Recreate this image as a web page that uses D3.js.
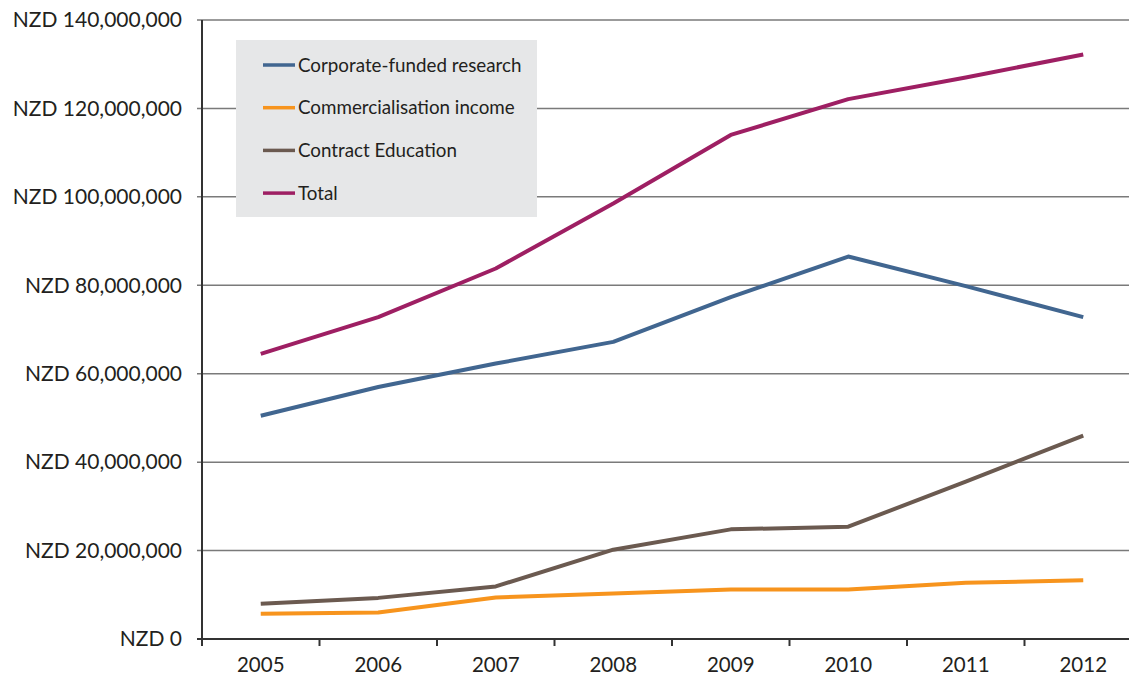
<!DOCTYPE html>
<html>
<head>
<meta charset="utf-8">
<script src="https://cdn.jsdelivr.net/npm/d3@7"></script>
<style>
  html, body { margin: 0; padding: 0; background: #fff; }
  svg { display: block; }
  text { font-family: Lato, "Open Sans", sans-serif; fill: #231f20; }
</style>
</head>
<body>
<svg id="chart" width="1129" height="675"></svg>
<script>
// Income streams by year (NZD)
const years = ["2005", "2006", "2007", "2008", "2009", "2010", "2011", "2012"];
const corporateResearch = [50.5e6, 57.0e6, 62.3e6, 67.2e6, 77.3e6, 86.5e6, 79.8e6, 72.8e6];
const commercialisation = [5.7e6, 6.0e6, 9.4e6, 10.3e6, 11.2e6, 11.2e6, 12.7e6, 13.3e6];
const contractEducation = [8.0e6, 9.3e6, 11.9e6, 20.2e6, 24.8e6, 25.4e6, 35.6e6, 46.0e6];
const total = [64.5e6, 72.8e6, 83.8e6, 98.5e6, 114.0e6, 122.1e6, 127.0e6, 132.2e6];
const yTicks = [0, 20e6, 40e6, 60e6, 80e6, 100e6, 120e6, 140e6];

const series = [
  { name: "Corporate-funded research", values: corporateResearch, color: "#416690" },
  { name: "Commercialisation income", values: commercialisation, color: "#f7941d" },
  { name: "Contract Education", values: contractEducation, color: "#6b5a50" },
  { name: "Total", values: total, color: "#9e1f63" }
];

const svg = d3.select("#chart");
const plotLeft = 202, plotRight = 1142, plotTop = 20, plotBottom = 639;

const x = d3.scaleBand().domain(years).range([plotLeft, plotRight]);
const y = d3.scaleLinear().domain([0, 140e6]).range([plotBottom, plotTop]);

const fmt = v => "NZD " + d3.format(",")(v);

// horizontal gridlines with short ticks left of the axis
svg.append("g").selectAll("line").data(yTicks.slice(1)).join("line")
  .attr("x1", plotLeft - 5).attr("x2", 1129)
  .attr("y1", d => y(d)).attr("y2", d => y(d))
  .attr("stroke", "#7a7a7a").attr("stroke-width", 1.5);

// y labels
svg.append("g").selectAll("text").data(yTicks).join("text")
  .attr("x", 182).attr("y", d => y(d))
  .attr("dy", "0.35em")
  .attr("text-anchor", "end")
  .attr("font-size", 21)
  .text(fmt);

// x axis baseline and ticks at band boundaries
svg.append("line")
  .attr("x1", plotLeft - 5).attr("x2", 1129)
  .attr("y1", plotBottom).attr("y2", plotBottom)
  .attr("stroke", "#333").attr("stroke-width", 2);
svg.append("g").selectAll("line").data(years).join("line")
  .attr("x1", d => x(d)).attr("x2", d => x(d))
  .attr("y1", plotBottom).attr("y2", plotBottom + 7)
  .attr("stroke", "#333").attr("stroke-width", 2);

// y axis line
svg.append("line")
  .attr("x1", plotLeft).attr("x2", plotLeft)
  .attr("y1", plotTop).attr("y2", plotBottom + 7)
  .attr("stroke", "#333").attr("stroke-width", 2);

// x labels
svg.append("g").selectAll("text").data(years).join("text")
  .attr("x", d => x(d) + x.bandwidth() / 2)
  .attr("y", 672)
  .attr("text-anchor", "middle")
  .attr("font-size", 20.5)
  .text(d => d);

// legend
const lg = svg.append("g");
lg.append("rect").attr("x", 236).attr("y", 40).attr("width", 301).attr("height", 177)
  .attr("fill", "#e6e7e8");
series.forEach((s, i) => {
  const ly = 65 + i * 42.7;
  lg.append("line").attr("x1", 263).attr("x2", 295).attr("y1", ly).attr("y2", ly)
    .attr("stroke", s.color).attr("stroke-width", 3.5);
  lg.append("text").attr("x", 298).attr("y", ly).attr("dy", "0.35em")
    .attr("font-size", 18.8).text(s.name);
});

// series lines
const line = d3.line()
  .x((d, i) => x(years[i]) + x.bandwidth() / 2)
  .y(d => y(d));
svg.append("g").selectAll("path").data(series).join("path")
  .attr("d", s => line(s.values))
  .attr("fill", "none")
  .attr("stroke", s => s.color)
  .attr("stroke-width", 4)
  .attr("stroke-linejoin", "round");
</script>
</body>
</html>
